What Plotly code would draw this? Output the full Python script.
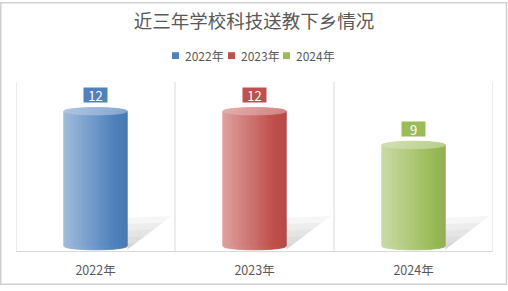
import math
import plotly.graph_objects as go

# ---- data ----
categories = ["2022年", "2023年", "2024年"]
series_names = ["2022年", "2023年", "2024年"]
values = [12, 12, 9]
colors = ["#4F81BD", "#C0504D", "#9BBB59"]
title_text = "近三年学校科技送教下乡情况"

# ---- geometry (pixels) ----
W, H = 508, 291
L, R, T, B = 16, 493, 82, 255
Y_RANGE = [-0.435, 14.6]
X_RANGE = [-0.5, 2.5]
BAR_HALF = 0.2      # half width of cylinder in category units
ELL_H = 0.33        # ellipse half-height in value units
FONT = "Noto Sans CJK SC, Noto Sans, sans-serif"
TXT = "#595959"
GRID = "#d9d9d9"


def hex2rgb(h):
    h = h.lstrip("#")
    return tuple(int(h[i:i + 2], 16) for i in (0, 2, 4))


def mix(c, w, dark=0.0):
    r, g, b = hex2rgb(c)
    r = r + (255 - r) * w
    g = g + (255 - g) * w
    b = b + (255 - b) * w
    r, g, b = r * (1 - dark), g * (1 - dark), b * (1 - dark)
    return "rgb(%d,%d,%d)" % (round(r), round(g), round(b))


def px2paper_x(px):
    return (px - L) / (R - L)


def px2paper_y(py):
    return (B - py) / (B - T)


fig = go.Figure()

# bar traces carrying the data (covered by cylinder shapes)
for i, (cat, v, c, nm) in enumerate(zip(categories, values, colors, series_names)):
    fig.add_trace(go.Bar(x=[i], y=[v], width=2 * BAR_HALF, marker=dict(color=c, line=dict(width=0)),
                         name=nm, showlegend=False, hovertemplate=nm + ": %{y}<extra></extra>"))

shapes = []

# gridlines at category boundaries
for k in range(len(categories) + 1):
    xb = k - 0.5
    shapes.append(dict(type="line", xref="x", yref="paper", x0=xb, x1=xb, y0=0, y1=1,
                       line=dict(color=GRID, width=1), layer="below"))

# shadows
for i, v in enumerate(values):
    ax, ay = i + BAR_HALF, -0.3
    pts = [(i + BAR_HALF, 2.5), (i + 0.48, 2.7), (i + BAR_HALF, -0.3)]
    for s in [1.0, 0.8, 0.6, 0.4, 0.2]:
        p = [(ax + s * (x - ax), ay + s * (y - ay)) for x, y in pts]
        path = "M %f,%f L %f,%f L %f,%f Z" % (ax, ay, p[0][0], p[0][1], p[1][0], p[1][1])
        shapes.append(dict(type="path", xref="x", yref="y", path=path,
                           fillcolor="rgba(140,140,140,0.08)", line=dict(width=0), layer="above"))

# cylinders
N = 40
for i, (v, c) in enumerate(zip(values, colors)):
    x_left = i - BAR_HALF
    dx = 2 * BAR_HALF / N
    for k in range(N):
        xa, xb = x_left + k * dx, x_left + (k + 1) * dx
        t = (k + 0.5) / N
        if t < 0.8:
            w = 0.48 * (1 - t / 0.8)
            dark = 0.0
        else:
            w = 0.0
            dark = 0.06 * (t - 0.8) / 0.2
        col = mix(c, w, dark)
        ua = (xa - i) / BAR_HALF
        ub = (xb - i) / BAR_HALF
        ya = -ELL_H * math.sqrt(max(0.0, 1 - ua * ua))
        yb = -ELL_H * math.sqrt(max(0.0, 1 - ub * ub))
        path = "M %f,%f L %f,%f L %f,%f L %f,%f Z" % (xa, v, xb, v, xb, yb, xa, ya)
        shapes.append(dict(type="path", xref="x", yref="y", path=path, fillcolor=col,
                           line=dict(color=col, width=0.8), layer="above"))
    # top ellipse
    for k in range(N):
        xa, xb = x_left + k * dx, x_left + (k + 1) * dx
        t = (k + 0.5) / N
        col = mix(c, 0.55 - 0.25 * t)
        ua = (xa - i) / BAR_HALF
        ub = (xb - i) / BAR_HALF
        ha = ELL_H * math.sqrt(max(0.0, 1 - ua * ua))
        hb = ELL_H * math.sqrt(max(0.0, 1 - ub * ub))
        path = "M %f,%f L %f,%f L %f,%f L %f,%f Z" % (xa, v + ha, xb, v + hb, xb, v - hb, xa, v - ha)
        shapes.append(dict(type="path", xref="x", yref="y", path=path, fillcolor=col,
                           line=dict(color=col, width=0.8), layer="above"))

# outer chart border
shapes.append(dict(type="rect", xref="paper", yref="paper",
                   x0=px2paper_x(0.75), x1=px2paper_x(506.5),
                   y0=px2paper_y(289), y1=px2paper_y(0.75),
                   line=dict(color="#d0d0d0", width=1.5), fillcolor="rgba(0,0,0,0)"))

# compact legend, like the original
annotations = []
leg_x = [172, 228, 283]
for nm, c, lx in zip(series_names, colors, leg_x):
    shapes.append(dict(type="rect", xref="paper", yref="paper",
                       x0=px2paper_x(lx), x1=px2paper_x(lx + 7),
                       y0=px2paper_y(58.5), y1=px2paper_y(51.5),
                       fillcolor=c, line=dict(width=0)))
    annotations.append(dict(text=nm, xref="paper", yref="paper", x=px2paper_x(lx + 11),
                            y=px2paper_y(55), xanchor="left", yanchor="middle", showarrow=False,
                            font=dict(family=FONT, size=12, color=TXT)))

# data labels
for i, (v, c) in enumerate(zip(values, colors)):
    annotations.append(dict(text=str(v), x=i, y=v, xref="x", yref="y", yshift=16,
                            showarrow=False, bgcolor=c, width=23, height=14, borderpad=0,
                            font=dict(family=FONT, size=13, color="white")))

fig.update_layout(
    width=W, height=H,
    margin=dict(l=L, r=W - R, t=T, b=H - B),
    paper_bgcolor="white", plot_bgcolor="white",
    title=dict(text=title_text, x=0.5, xref="container", xanchor="center",
               y=1 - 22 / H, yref="container", yanchor="middle",
               font=dict(family=FONT, size=18.5, color=TXT)),
    showlegend=False,
    xaxis=dict(range=X_RANGE, tickvals=list(range(len(categories))), ticktext=categories,
               showgrid=False, zeroline=False, showline=True, linecolor=GRID, linewidth=1,
               ticks="", ticklabelstandoff=8,
               tickfont=dict(family=FONT, size=12.5, color=TXT), fixedrange=True),
    yaxis=dict(range=Y_RANGE, showgrid=False, zeroline=False, showticklabels=False,
               ticks="", showline=False, fixedrange=True),
    shapes=shapes,
    annotations=annotations,
    bargap=0,
)

fig.write_html("out.html")
